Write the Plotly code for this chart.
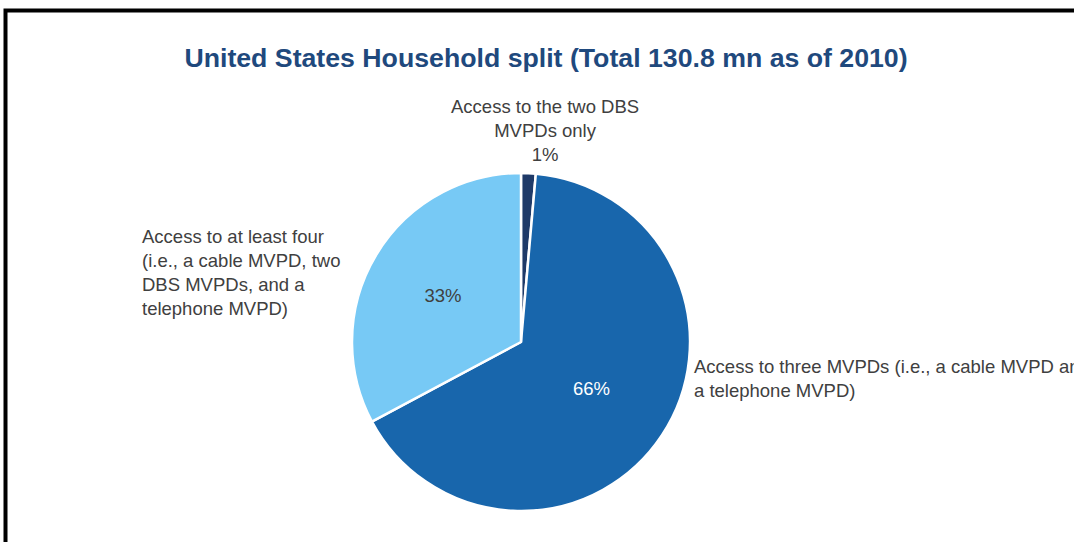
import plotly.graph_objects as go

categories = [
    "Access to the two DBS<br>MVPDs only",
    "Access to three MVPDs (i.e., a cable MVPD and<br>a telephone MVPD)",
    "Access to at least four<br>(i.e., a cable MVPD, two<br>DBS MVPDs, and a<br>telephone MVPD)",
]
shares = [1.4, 65.8, 32.8]
pct_labels = ["1%", "66%", "33%"]
colors = ["#1F3A68", "#1866AC", "#77C9F5"]
title_text = "United States Household split (Total 130.8 mn as of 2010)"

W, H = 1074, 542
cx, cy, r = 521, 342, 169
FONT = "Liberation Sans, Arial, sans-serif"

fig = go.Figure(go.Pie(
    labels=categories,
    values=shares,
    text=pct_labels,
    sort=False,
    direction="clockwise",
    rotation=0,
    marker=dict(colors=colors, line=dict(color="white", width=2.5)),
    texttemplate=["", "%{text}", "%{text}"],
    textposition="inside",
    insidetextorientation="horizontal",
    insidetextfont=dict(family=FONT, size=18.5,
                        color=["white", "white", "#404040"]),
    hoverinfo="label+percent",
    domain=dict(x=[(cx - r) / W, (cx + r) / W], y=[(H - cy - r) / H, (H - cy + r) / H]),
    showlegend=False,
))

lab_font = dict(family=FONT, size=18.5, color="#404040")
fig.add_annotation(x=545 / W, y=1 - 131 / H, xref="paper", yref="paper",
                   text=categories[0] + "<br>" + pct_labels[0], showarrow=False,
                   xanchor="center", yanchor="middle", align="center", font=lab_font)
fig.add_annotation(x=692 / W, y=1 - 378 / H, xref="paper", yref="paper",
                   text=categories[1], showarrow=False,
                   xanchor="left", yanchor="middle", align="left", font=lab_font)
fig.add_annotation(x=140 / W, y=1 - 272 / H, xref="paper", yref="paper",
                   text=categories[2], showarrow=False,
                   xanchor="left", yanchor="middle", align="left", font=lab_font)

# Frame
fig.add_shape(type="rect", xref="paper", yref="paper",
              x0=5.5 / W, x1=1.05, y0=-0.05, y1=1 - 10.5 / H,
              line=dict(color="black", width=4), fillcolor="rgba(0,0,0,0)")

fig.update_layout(
    width=W, height=H,
    margin=dict(l=0, r=0, t=0, b=0),
    paper_bgcolor="white",
    plot_bgcolor="white",
    title=dict(text="<b>" + title_text + "</b>", x=546 / W, xanchor="center",
               y=1 - 58 / H, yanchor="middle",
               font=dict(family=FONT, size=26.7, color="#1F497D")),
)

fig.write_html("out.html", config={"displayModeBar": False},
               post_script="document.body.style.margin='0px';")
